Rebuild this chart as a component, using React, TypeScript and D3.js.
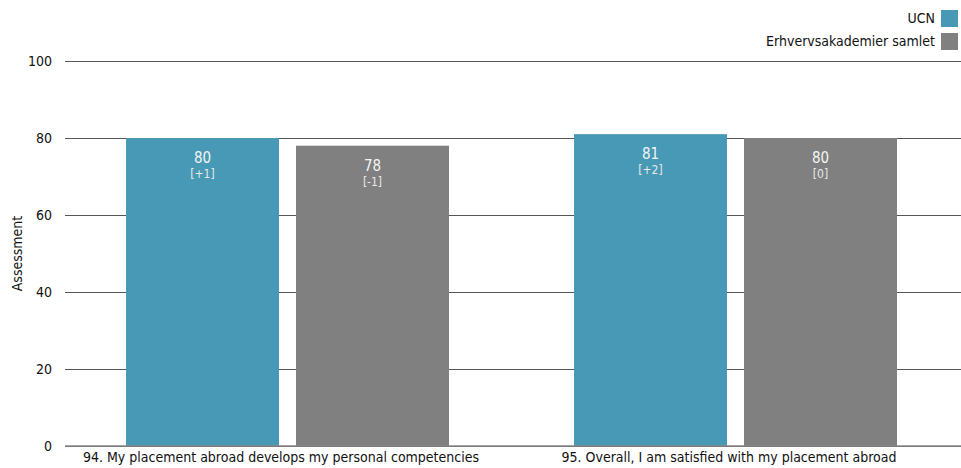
import React from "react";
import * as d3 from "d3";

const categories = [
  "94. My placement abroad develops my personal competencies",
  "95. Overall, I am satisfied with my placement abroad",
];
const seriesNames = ["UCN", "Erhvervsakademier samlet"];
const ucnValues = [80, 81];
const allValues = [78, 80];
const ucnDeltas = ["[+1]", "[+2]"];
const allDeltas = ["[-1]", "[0]"];
const yTicks = [0, 20, 40, 60, 80, 100];
const colors = ["#4899b6", "#808080"];

const W = 961;
const H = 468;
const FONT = "Tahoma, 'DejaVu Sans Condensed', 'Liberation Sans', sans-serif";

export default function App() {
  const left = 65, right = 961, top = 61, bottom = 446;
  const x = d3.scaleBand<string>().domain(categories).range([left, right]).paddingInner(0).paddingOuter(0);
  const inner = d3.scaleBand<string>().domain(seriesNames).range([0, 323]).paddingInner(0.1);
  const y = d3.scaleLinear().domain([0, 100]).range([bottom, top]);
  const series = [
    { name: seriesNames[0], values: ucnValues, deltas: ucnDeltas, color: colors[0] },
    { name: seriesNames[1], values: allValues, deltas: allDeltas, color: colors[1] },
  ];
  const groupOffset = (x.bandwidth() - 323) / 2 - 1.5;
  return (
    <svg width={W} height={H} style={{ position: "absolute", left: 0, top: 0, fontFamily: FONT }}>
      {yTicks.map((t) => (
        <g key={t}>
          <line x1={left} x2={right} y1={y(t) + 0.5} y2={y(t) + 0.5} stroke="#555" strokeWidth={1} />
          <text x={52} y={y(t)} dy="0.35em" textAnchor="end" fontSize={14} fill="#111">
            {t}
          </text>
        </g>
      ))}
      <text transform={`translate(22,${(top + bottom) / 2}) rotate(-90)`} textAnchor="middle" fontSize={14} fill="#111">
        Assessment
      </text>
      {categories.map((c, i) => (
        <g key={c}>
          {series.map((s) => {
            const bx = (x(c) as number) + groupOffset + (inner(s.name) as number);
            const bw = inner.bandwidth();
            const by = y(s.values[i]);
            return (
              <g key={s.name}>
                <rect x={bx} y={by} width={bw} height={bottom - by} fill={s.color} />
                <text x={bx + bw / 2} y={by + 25} textAnchor="middle" fontSize={15} fill="#f4f4f4">
                  {s.values[i]}
                </text>
                <text x={bx + bw / 2} y={by + 40} textAnchor="middle" fontSize={12} fill="#e8e8e8">
                  {s.deltas[i]}
                </text>
              </g>
            );
          })}
          <text x={(x(c) as number) + x.bandwidth() / 2 - 8} y={462} textAnchor="middle" fontSize={14} fill="#111">
            {c}
          </text>
        </g>
      ))}
      <line x1={left} x2={right} y1={bottom} y2={bottom} stroke="#888" strokeWidth={1.5} />
      {series.map((s, i) => (
        <g key={s.name}>
          <rect x={941} y={10 + i * 23} width={17} height={17} fill={s.color} />
          <text x={935} y={18.5 + i * 23} dy="0.35em" textAnchor="end" fontSize={14} fill="#111">
            {s.name}
          </text>
        </g>
      ))}
    </svg>
  );
}
